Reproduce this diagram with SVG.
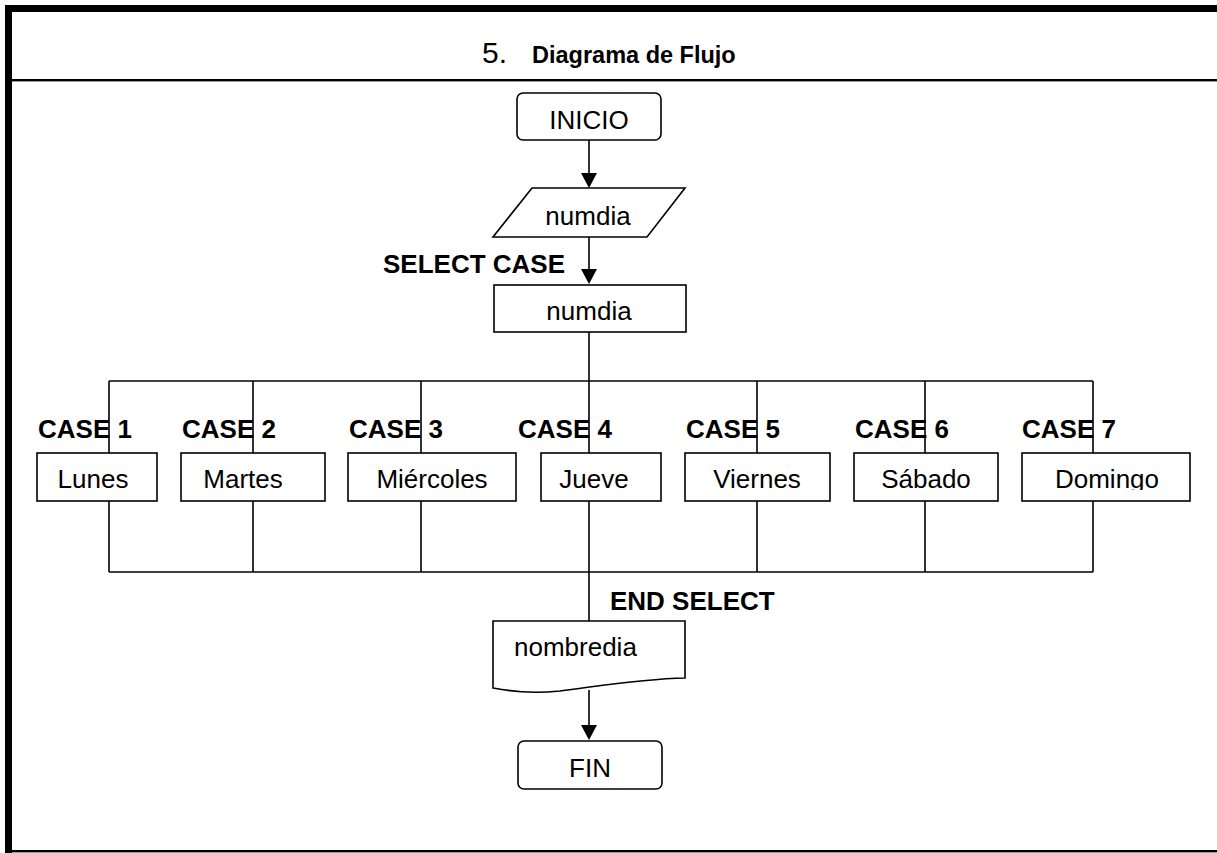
<svg xmlns="http://www.w3.org/2000/svg" width="1217" height="853" viewBox="0 0 1217 853">
<style>
.t{font-family:"Liberation Sans",Arial,sans-serif;font-size:26px;fill:#000}
.b{font-family:"Liberation Sans",Arial,sans-serif;font-size:26px;font-weight:bold;fill:#000}
.s{fill:#fff;stroke:#000;stroke-width:1.6}
.ln{fill:none;stroke:#000;stroke-width:1.6}
</style>
<defs>
<marker id="ah" markerUnits="userSpaceOnUse" markerWidth="16" markerHeight="16" refX="8" refY="15" orient="auto-start-reverse" viewBox="0 0 16 16">
<path d="M0,0 L16,0 L8,15 Z" fill="#000"/>
</marker>
<clipPath id="clipDom"><rect x="1022" y="453" width="168" height="37"/></clipPath>
</defs>
<rect width="1217" height="853" fill="#fff"/>
<!-- frame -->
<g id="frame">
<rect x="5" y="5" width="1212" height="7" fill="#000"/>
<rect x="5" y="5" width="7" height="848" fill="#000"/>
<rect x="12" y="79" width="1205" height="2.4" fill="#000"/>
<rect x="12" y="850" width="1205" height="2.4" fill="#000"/>
</g>
<g id="title">
<text x="482" y="63" font-family="Liberation Sans,Arial,sans-serif" font-size="30" fill="#000">5.</text>
<text x="532" y="63" font-family="Liberation Sans,Arial,sans-serif" font-size="23.5" font-weight="bold" fill="#000">Diagrama de Flujo</text>
</g>
<g id="connectors">
<path class="ln" d="M589,140 V173" />
<path d="M581,173 L597,173 L589,188 Z" fill="#000"/>
<path class="ln" d="M589,237 V269" />
<path d="M581,269 L597,269 L589,284 Z" fill="#000"/>
<path class="ln" d="M589,332 V621" />
<path class="ln" d="M109,381 H1093" />
<path class="ln" d="M109,572 H1093" />
<path class="ln" d="M109,381 V453 M253,381 V453 M421,381 V453 M757,381 V453 M925,381 V453 M1093,381 V453" />
<path class="ln" d="M109,501 V572 M253,501 V572 M421,501 V572 M757,501 V572 M925,501 V572 M1093,501 V572" />
<path class="ln" d="M589,690 V725" />
<path d="M581,725 L597,725 L589,740 Z" fill="#000"/>
</g>
<g id="labels">
<text class="b" x="383" y="273">SELECT CASE</text>
<text class="b" x="610" y="610">END SELECT</text>
<text class="b" x="38" y="438">CASE 1</text>
<text class="b" x="182" y="438">CASE 2</text>
<text class="b" x="349" y="438">CASE 3</text>
<text class="b" x="518" y="438">CASE 4</text>
<text class="b" x="686" y="438">CASE 5</text>
<text class="b" x="855" y="438">CASE 6</text>
<text class="b" x="1022" y="438">CASE 7</text>
</g>
<g id="inicio">
<rect class="s" x="517" y="93" width="144" height="47" rx="6"/>
<text class="t" x="589" y="129" text-anchor="middle">INICIO</text>
</g>
<g id="input">
<path class="s" d="M532,188 L685,188 L647,237 L493,237 Z"/>
<text class="t" x="588" y="225" text-anchor="middle">numdia</text>
</g>
<g id="select">
<rect class="s" x="494" y="285" width="192" height="47"/>
<text class="t" x="589" y="320" text-anchor="middle">numdia</text>
</g>
<g id="lunes">
<rect class="s" x="37" y="453" width="120" height="48"/>
<text class="t" x="93" y="488" text-anchor="middle">Lunes</text>
</g>
<g id="martes">
<rect class="s" x="181" y="453" width="144" height="48"/>
<text class="t" x="243" y="488" text-anchor="middle">Martes</text>
</g>
<g id="miercoles">
<rect class="s" x="348" y="453" width="168" height="48"/>
<text class="t" x="432" y="488" text-anchor="middle">Miércoles</text>
</g>
<g id="jueves">
<rect class="s" x="541" y="453" width="120" height="48"/>
<text class="t" x="594" y="488" text-anchor="middle">Jueve</text>
</g>
<g id="viernes">
<rect class="s" x="685" y="453" width="145" height="48"/>
<text class="t" x="757" y="488" text-anchor="middle">Viernes</text>
</g>
<g id="sabado">
<rect class="s" x="854" y="453" width="144" height="48"/>
<text class="t" x="926" y="488" text-anchor="middle">Sábado</text>
</g>
<g id="domingo">
<rect class="s" x="1022" y="453" width="168" height="48"/>
<text class="t" x="1107" y="488" text-anchor="middle" clip-path="url(#clipDom)">Domingo</text>
</g>
<g id="output">
<path class="s" d="M493,621 L685,621 L685,678 C640,679 600,686 560,691 C530,694 510,691 493,688 Z"/>
<text class="t" x="514" y="656">nombredia</text>
</g>
<g id="fin">
<rect class="s" x="518" y="741" width="144" height="48" rx="6"/>
<text class="t" x="590" y="777" text-anchor="middle">FIN</text>
</g>
</svg>
